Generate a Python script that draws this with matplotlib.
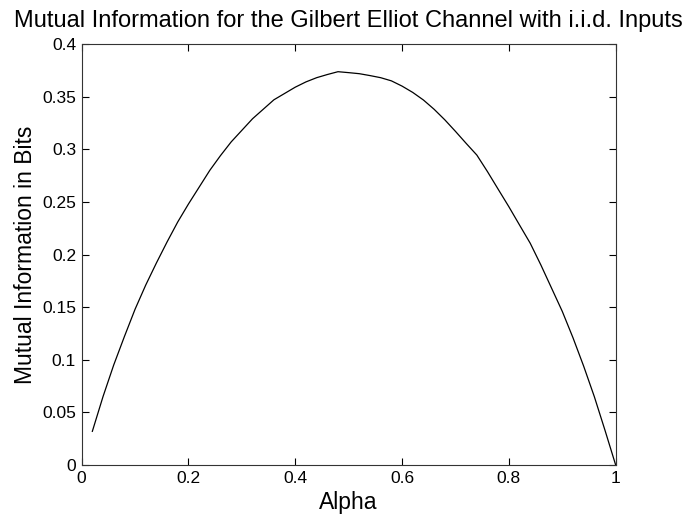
import numpy as np
import matplotlib
matplotlib.use('Agg')
import matplotlib.pyplot as plt

# values
alpha = [0.02, 0.04, 0.06, 0.08, 0.10, 0.12, 0.14, 0.16, 0.18, 0.20,
         0.22, 0.24, 0.26, 0.28, 0.30, 0.32, 0.34, 0.36, 0.38, 0.40,
         0.42, 0.44, 0.46, 0.48, 0.50, 0.52, 0.54, 0.56, 0.58, 0.60,
         0.62, 0.64, 0.66, 0.68, 0.70, 0.72, 0.74, 0.76, 0.78, 0.80,
         0.82, 0.84, 0.86, 0.88, 0.90, 0.92, 0.94, 0.96, 0.98, 1.00]
mutual_info = [0.032, 0.065, 0.095, 0.122, 0.148, 0.171, 0.192, 0.212, 0.231, 0.248,
               0.264, 0.280, 0.294, 0.307, 0.318, 0.329, 0.338, 0.347, 0.353, 0.359,
               0.364, 0.368, 0.371, 0.3737, 0.3728, 0.3718, 0.370, 0.368, 0.365, 0.360,
               0.354, 0.3468, 0.338, 0.328, 0.317, 0.3056, 0.2945, 0.2787, 0.262, 0.2454,
               0.228, 0.2107, 0.190, 0.168, 0.146, 0.121, 0.094, 0.065, 0.033, 0.0]

xticks = [0, 0.2, 0.4, 0.6, 0.8, 1]
xticklabels = ['0', '0.2', '0.4', '0.6', '0.8', '1']
yticks = [0, 0.05, 0.1, 0.15, 0.2, 0.25, 0.3, 0.35, 0.4]
yticklabels = ['0', '0.05', '0.1', '0.15', '0.2', '0.25', '0.3', '0.35', '0.4']

plt.rcParams['font.family'] = ['Liberation Sans', 'DejaVu Sans']

fig = plt.figure(figsize=(6.92, 5.16), dpi=100)
ax = fig.add_axes([0.118, 0.0988, 0.7717, 0.8159])

ax.plot(alpha, mutual_info, color='black', linewidth=0.9)

ax.set_xlim(0, 1)
ax.set_ylim(0, 0.4)
ax.set_xticks(xticks)
ax.set_xticklabels(xticklabels)
ax.set_yticks(yticks)
ax.set_yticklabels(yticklabels)
ax.tick_params(direction='in', length=5, width=0.8, top=True, right=True,
               labelsize=12.5, colors='black', pad=4)
for s in ax.spines.values():
    s.set_color('#333333')
    s.set_linewidth(0.8)

ax.set_xlabel('Alpha', fontsize=16.5, labelpad=4)
ax.set_ylabel('Mutual Information in Bits', fontsize=16.5, labelpad=4)
ax.set_title('Mutual Information for the Gilbert Elliot Channel with i.i.d. Inputs',
             fontsize=17, pad=12)

fig.savefig('out.png', dpi=100, facecolor='white')
